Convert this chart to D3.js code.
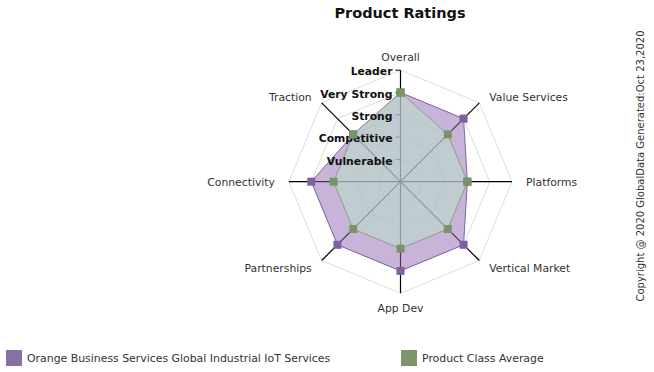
<!DOCTYPE html>
<html><head><meta charset="utf-8">
<script src="https://cdn.jsdelivr.net/npm/d3@7/dist/d3.min.js"></script>
<style>body{margin:0;background:#fff}svg{display:block}</style>
</head><body>
<svg id="c" width="654" height="372"></svg>
<script>
const categories = ["Overall","Value Services","Platforms","Vertical Market","App Dev","Partnerships","Connectivity","Traction"];
const companyValues = [4,4,3,4,4,4,4,3];
const averageValues = [4,3,3,3,3,3,3,3];
const levelLabels = ["Vulnerable","Competitive","Strong","Very Strong","Leader"];
const levelValues = [1,2,3,4,5];
const seriesNames = ["Orange Business Services Global Industrial IoT Services","Product Class Average"];

const svg = d3.select("#c");
const cx = 400.5, cy = 181.7;
const r = d3.scaleLinear().domain([0,5]).range([0,111.5]);
const ang = d3.scaleLinear().domain([0,categories.length]).range([0,2*Math.PI]);
const pt = (i,v)=>[cx+r(v)*Math.sin(ang(i)), cy-r(v)*Math.cos(ang(i))];
const g = svg.append("g");

// grid rings
levelValues.forEach(l=>{
  g.append("path")
   .attr("d", d3.lineRadial().angle((d,i)=>ang(i)).radius(()=>r(l)).curve(d3.curveLinearClosed)(categories))
   .attr("transform",`translate(${cx},${cy})`)
   .attr("fill","none").attr("stroke","#dcdcdc").attr("stroke-width",1);
});
// axes
categories.forEach((c,i)=>{
  const p = pt(i,5);
  g.append("line").attr("x1",cx).attr("y1",cy).attr("x2",p[0]).attr("y2",p[1])
   .attr("stroke","#000").attr("stroke-width",1.2);
});
// ticks
levelValues.forEach(l=>{
  g.append("line").attr("x1",cx-5).attr("x2",cx).attr("y1",cy-r(l)).attr("y2",cy-r(l))
   .attr("stroke","#000").attr("stroke-width",1);
});
const radial = d3.lineRadial().angle((d,i)=>ang(i)).radius(d=>r(d)).curve(d3.curveLinearClosed);
g.append("path").attr("d",radial(companyValues)).attr("transform",`translate(${cx},${cy})`)
  .attr("fill","rgb(145,105,177)").attr("fill-opacity",0.5).attr("stroke","#8064a2").attr("stroke-width",1);
g.append("path").attr("d",radial(averageValues)).attr("transform",`translate(${cx},${cy})`)
  .attr("fill","rgb(187,220,203)").attr("fill-opacity",0.6).attr("stroke","#95a090").attr("stroke-width",1);

// level labels
levelValues.forEach((l,i)=>{
  g.append("text").attr("x",cx-8).attr("y",cy-r(l)+1.5).attr("dy","0.35em")
   .attr("text-anchor","end").attr("font-family","DejaVu Sans, sans-serif").attr("font-weight","bold")
   .attr("font-size","10.8px").attr("fill","#111").text(levelLabels[i]);
});
// category labels
categories.forEach((c,i)=>{
  const a = ang(i);
  const s = Math.sin(a), co = Math.cos(a);
  const rr = r(5.63);
  const diag = Math.abs(s)>0.01 && Math.abs(co)>0.01;
  const x = cx + rr*s;
  const y = cy - rr*co*(diag?0.96:1) + 1;
  const anchor = Math.abs(s)<0.01 ? "middle" : (s>0 ? "start":"end");
  g.append("text").attr("x",x).attr("y",y).attr("dy","0.35em")
   .attr("text-anchor",anchor).attr("font-family","DejaVu Sans, sans-serif")
   .attr("font-size","10.8px").attr("fill","#333").text(c);
});
// markers
const ms = 8;
companyValues.forEach((v,i)=>{ const p=pt(i,v);
  g.append("rect").attr("x",p[0]-ms/2).attr("y",p[1]-ms/2).attr("width",ms).attr("height",ms).attr("fill","#7f5fa0"); });
averageValues.forEach((v,i)=>{ const p=pt(i,v);
  g.append("rect").attr("x",p[0]-ms/2).attr("y",p[1]-ms/2).attr("width",ms).attr("height",ms).attr("fill","#7a9565"); });

// title
svg.append("text").attr("x",400).attr("y",13).attr("dy","0.35em").attr("text-anchor","middle")
  .attr("font-family","DejaVu Sans, sans-serif").attr("font-weight","bold").attr("font-size","14.5px")
  .attr("fill","#111").text("Product Ratings");
// copyright
svg.append("text").attr("transform","translate(640,166) rotate(-90)").attr("dy","0.35em")
  .attr("text-anchor","middle").attr("font-family","DejaVu Sans, sans-serif").attr("font-size","10px")
  .attr("fill","#333").text("Copyright @ 2020 GlobalData Generated:Oct 23,2020");
// legend
const legendX = [6,401], legendColors = ["#8a6fa6","#7e9469"];
seriesNames.forEach((n,i)=>{
  svg.append("rect").attr("x",legendX[i]).attr("y",350).attr("width",16).attr("height",16).attr("fill",legendColors[i]);
  svg.append("text").attr("x",legendX[i]+21).attr("y",358).attr("dy","0.35em")
   .attr("font-family","DejaVu Sans, sans-serif").attr("font-size","10.9px").attr("fill","#333").text(n);
});
</script>
</body></html>
